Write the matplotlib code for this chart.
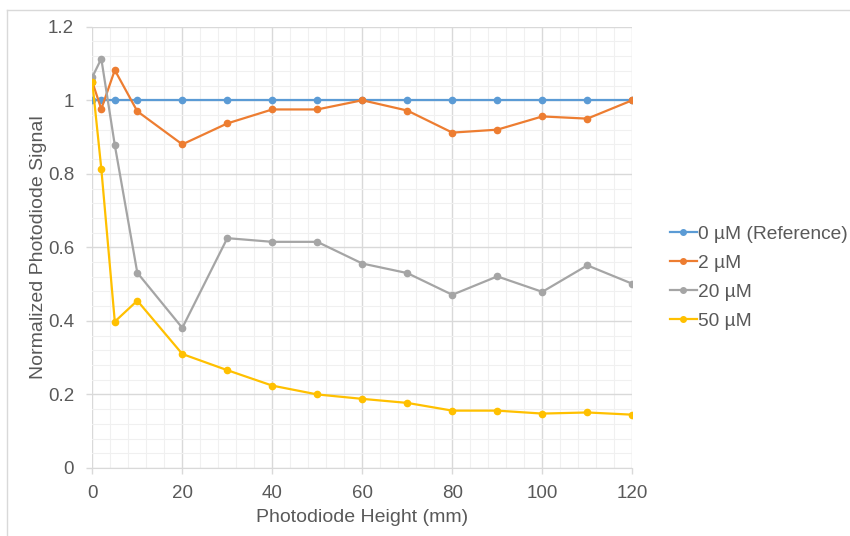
import matplotlib
matplotlib.use("Agg")
import matplotlib.pyplot as plt
from matplotlib.ticker import MultipleLocator
from matplotlib.lines import Line2D

heights = [0, 2, 5, 10, 20, 30, 40, 50, 60, 70, 80, 90, 100, 110, 120]
ref_0uM = [1.0] * 15
s_2uM = [1.050, 0.976, 1.082, 0.970, 0.880, 0.937, 0.975, 0.975, 1.000, 0.972, 0.912, 0.920, 0.956, 0.950, 1.000]
s_20uM = [1.063, 1.113, 0.878, 0.531, 0.381, 0.625, 0.615, 0.615, 0.556, 0.530, 0.471, 0.521, 0.479, 0.551, 0.501]
s_50uM = [1.050, 0.814, 0.398, 0.455, 0.310, 0.266, 0.224, 0.200, 0.188, 0.177, 0.156, 0.156, 0.148, 0.151, 0.145]
labels = ["0 µM (Reference)", "2 µM", "20 µM", "50 µM"]
colors = ["#5B9BD5", "#ED7D31", "#A5A5A5", "#FFC000"]

plt.rcParams['font.family'] = ['Liberation Sans', 'DejaVu Sans']

W, H = 850, 536
fig = plt.figure(figsize=(W / 100, H / 100), dpi=100)
ax = fig.add_axes([92.3 / W, 1 - 468 / H, 540 / W, (468 - 26.7) / H])

series = [ref_0uM, s_2uM, s_20uM, s_50uM]
for ys, lab, c in zip(series, labels, colors):
    ax.plot(heights, ys, color=c, lw=1.6, marker='o', ms=4.5, label=lab, zorder=3)

ax.set_xlim(0, 120)
ax.set_ylim(0, 1.2)
ax.xaxis.set_major_locator(MultipleLocator(20))
ax.xaxis.set_minor_locator(MultipleLocator(4))
ax.yaxis.set_major_locator(MultipleLocator(0.2))
ax.yaxis.set_minor_locator(MultipleLocator(0.04))
ax.grid(which='major', color='#D9D9D9', lw=1.0, zorder=0)
ax.grid(which='minor', color='#F0F0F0', lw=0.8, zorder=0)
for s in ['top', 'right', 'left']:
    ax.spines[s].set_visible(False)
ax.spines['bottom'].set_color('#D9D9D9')
ax.tick_params(axis='both', which='minor', length=0)
ax.tick_params(axis='both', which='major', length=4, width=1, color='#D9D9D9',
               labelsize=13.5, labelcolor='#595959')
ax.tick_params(axis='x', which='major', pad=8)
ax.tick_params(axis='y', which='major', pad=9)

def fmt(v, pos):
    s = f"{v:.1f}"
    return "0" if abs(v) < 1e-9 else (s.rstrip('0').rstrip('.'))
ax.yaxis.set_major_formatter(plt.FuncFormatter(fmt))

ax.set_xlabel("Photodiode Height (mm)", fontsize=14, color='#595959', labelpad=5)
ax.set_ylabel("Normalized Photodiode Signal", fontsize=14, color='#595959', labelpad=1)

leg = fig.legend(loc='upper left', bbox_to_anchor=(662 / W, 1 - 218 / H), frameon=False,
                 fontsize=13.8, labelcolor='#595959', handlelength=1.4, handletextpad=0.1,
                 labelspacing=0.6, borderaxespad=0)
for h in leg.legend_handles:
    h.set_markersize(4)
    h.set_linewidth(1.6)

fig.add_artist(Line2D([7 / W, 1], [1 - 10 / H, 1 - 10 / H], color='#D9D9D9', lw=1, transform=fig.transFigure))
fig.add_artist(Line2D([7 / W, 7 / W], [0, 1 - 10 / H], color='#D9D9D9', lw=1, transform=fig.transFigure))

fig.savefig("out.png", dpi=100)
